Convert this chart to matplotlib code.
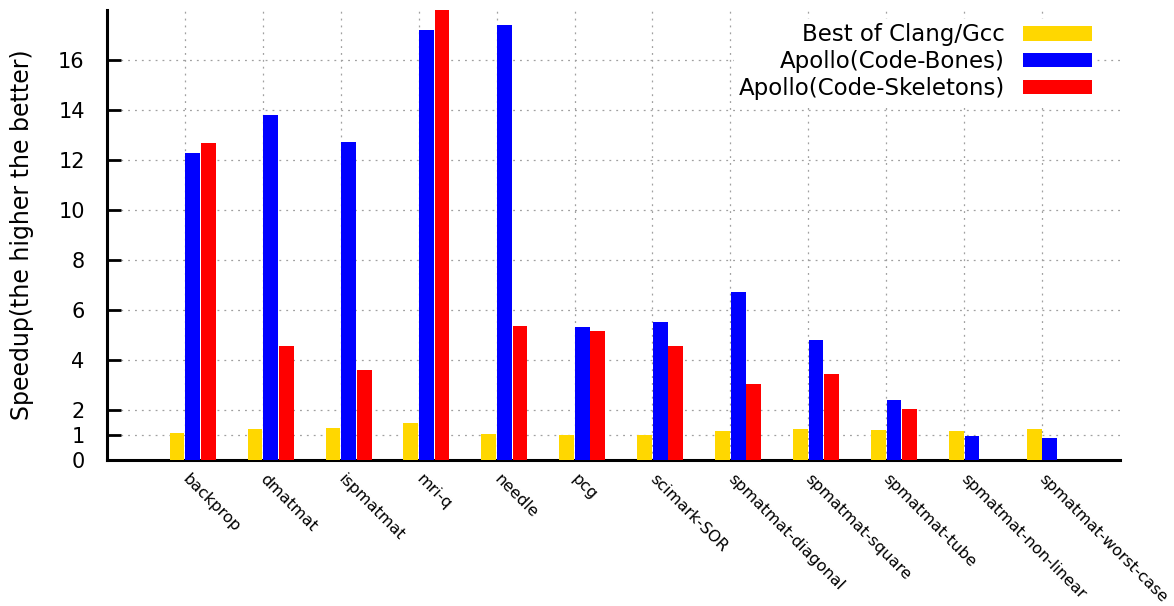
import numpy as np
import matplotlib
matplotlib.use("Agg")
import matplotlib.pyplot as plt
from matplotlib.transforms import ScaledTranslation

benchmarks = ["backprop", "dmatmat", "ispmatmat", "mri-q", "needle", "pcg",
              "scimark-SOR", "spmatmat-diagonal", "spmatmat-square",
              "spmatmat-tube", "spmatmat-non-linear", "spmatmat-worst-case"]
best_clang_gcc = [1.08, 1.24, 1.29, 1.48, 1.04, 1.00, 1.00, 1.16, 1.24, 1.20, 1.16, 1.24]
code_bones = [12.29, 13.81, 12.73, 17.20, 17.40, 5.31, 5.51, 6.70, 4.79, 2.39, 0.96, 0.88]
code_skeletons = [12.69, 4.55, 3.59, 18.00, 5.35, 5.15, 4.55, 3.03, 3.43, 2.03, 0.0, 0.0]

series = [("Best of Clang/Gcc", best_clang_gcc, "#ffd700"),
          ("Apollo(Code-Bones)", code_bones, "#0000ff"),
          ("Apollo(Code-Skeletons)", code_skeletons, "#ff0000")]

plt.rcParams["font.family"] = "DejaVu Sans"

fig = plt.figure(figsize=(11.74, 6.06), dpi=100)
ax = fig.add_axes([0.0911, 0.241, 0.8629, 0.7425])

x = np.arange(len(benchmarks))
w = 0.2
for k, (name, vals, col) in enumerate(series):
    ax.bar(x - 0.1 + k * w, vals, width=w * 0.95, color=col, label=name,
           zorder=3, linewidth=0)

ax.set_xlim(-1, 12)
ax.set_ylim(0, 18)
ax.set_yticks([0, 1, 2, 4, 6, 8, 10, 12, 14, 16])
ax.set_xticks(x)
ax.set_xticklabels(benchmarks, rotation=-45, ha="left", va="top",
                   rotation_mode="anchor", fontsize=11.5)
ax.tick_params(axis="x", length=0, pad=7)
ax.tick_params(axis="y", direction="in", length=10, width=2, labelsize=15, pad=16)

# nudge the slanted labels a little to the right
shift = ScaledTranslation(5 / 100, -2 / 100, fig.dpi_scale_trans)
for lab in ax.get_xticklabels():
    lab.set_transform(lab.get_transform() + shift)

ax.grid(True, color="#a0a0a0", linestyle=(0, (1.5, 4)), linewidth=0.9, zorder=0)
ax.set_axisbelow(True)

for s in ["top", "right"]:
    ax.spines[s].set_visible(False)
for s in ["left", "bottom"]:
    ax.spines[s].set_linewidth(2.2)

ax.set_ylabel("Speedup(the higher the better)", fontsize=17, labelpad=17)

leg = ax.legend(loc="upper right", bbox_to_anchor=(0.988, 1.006), markerfirst=False,
                frameon=True, fancybox=False, framealpha=1, edgecolor="white",
                fontsize=16.5, handlelength=3.0, handleheight=0.6,
                labelspacing=0.17, handletextpad=0.8, borderpad=0.2)
leg.set_zorder(5)

fig.savefig("out.png", dpi=100)
